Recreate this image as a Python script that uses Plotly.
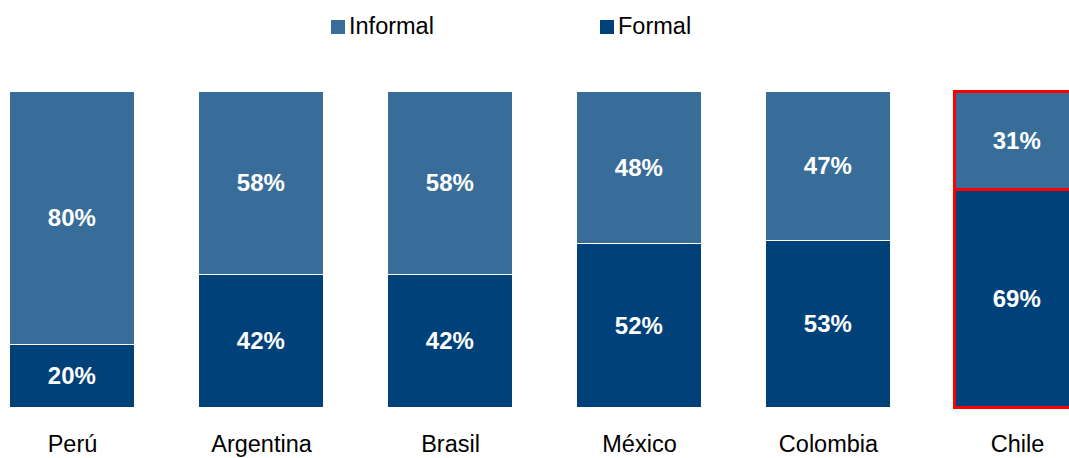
import plotly.graph_objects as go

categories = ["Perú", "Argentina", "Brasil", "México", "Colombia", "Chile"]
formal = [20, 42, 42, 52, 53, 69]
informal = [80, 58, 58, 48, 47, 31]
series_names = ["Informal", "Formal"]

c_inf = "#386D9A"
c_for = "#01417A"
highlight = "Chile"

line_colors = ["red" if c == highlight else "white" for c in categories]
line_widths = [3.5 if c == highlight else 1.4 for c in categories]

# figure runs a little past the right edge so the Chile bar is cut off there
EXTRA_R = 24
W, H = 1069 + EXTRA_R, 458
top_px, bot_px = 89, 411

FONT = "Arial, Liberation Sans"

fig = go.Figure()
fig.add_trace(go.Bar(
    x=categories, y=formal, name="Formal", width=0.66,
    marker=dict(color=c_for, line=dict(color=line_colors, width=line_widths)),
    text=[f"{v}%" for v in formal], textposition="inside", insidetextanchor="middle",
    textfont=dict(family=FONT, size=24, color="white", weight="bold"),
    showlegend=False,
))
fig.add_trace(go.Bar(
    x=categories, y=informal, name="Informal", width=0.66,
    marker=dict(color=c_inf, line=dict(color=line_colors, width=line_widths)),
    text=[f"{v}%" for v in informal], textposition="inside", insidetextanchor="middle",
    textfont=dict(family=FONT, size=24, color="white", weight="bold"),
    showlegend=False,
))

# manual legend in pixel coordinates
def py(p):
    return (bot_px - p) / (bot_px - top_px)

def px(p):
    return p / W

legend_items = [(series_names[0], c_inf, 331), (series_names[1], c_for, 600)]
for name, col, x0 in legend_items:
    fig.add_shape(type="rect", xref="paper", yref="paper",
                  x0=px(x0), x1=px(x0 + 14), y0=py(34), y1=py(20),
                  fillcolor=col, line=dict(width=0))
    fig.add_annotation(xref="paper", yref="paper", x=px(x0 + 16), y=py(26),
                       xanchor="left", yanchor="middle", showarrow=False,
                       text=name, font=dict(family=FONT, size=23.5, color="black"))

scale = 189.0
r0 = -72.5 / scale
r1 = r0 + W / scale
fig.update_layout(
    barmode="stack",
    width=W, height=H,
    margin=dict(l=0, r=0, t=top_px, b=H - bot_px),
    plot_bgcolor="white", paper_bgcolor="white",
    xaxis=dict(range=[r0, r1], showgrid=False, showline=False, zeroline=False,
               automargin=False,
               ticks="outside", ticklen=12, tickcolor="rgba(0,0,0,0)",
               tickfont=dict(family=FONT, size=23.5, color="black")),
    yaxis=dict(range=[-1, 101], visible=False),
    bargap=0,
)
fig.write_html("out.html",
               config={"displayModeBar": False},
               post_script="document.body.style.margin='0';document.body.style.overflow='hidden';")
